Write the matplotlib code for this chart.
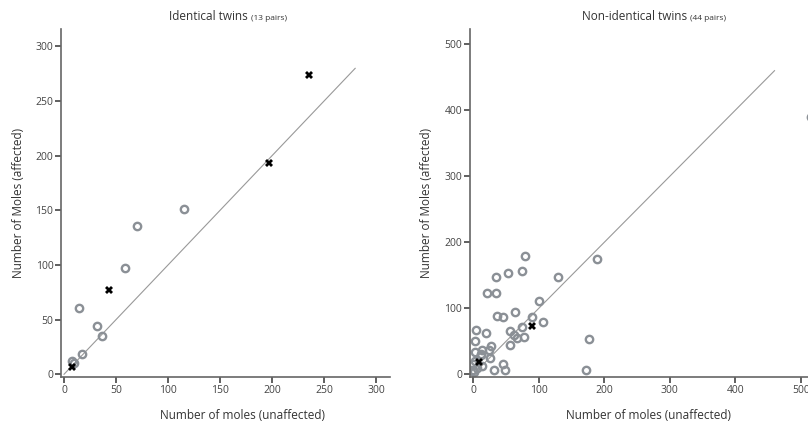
import matplotlib.pyplot as plt

plt.rcParams['font.family'] = ['Open Sans', 'DejaVu Sans']

# identical twins (13 pairs)
id_circle_x = [8, 10, 17, 14, 32, 37, 59, 70, 115]
id_circle_y = [12, 10, 19, 61, 44, 35, 97, 136, 151]
id_cross_x = [8, 43, 197, 236]
id_cross_y = [7, 77, 193, 274]

# non-identical twins (44 pairs)
nid_circle_x = [189, 130, 79, 75, 53, 34, 21, 35, 101, 64, 36, 46, 90, 107,
                74, 56, 62, 66, 78, 56, 177, 4, 20, 3, 27, 24, 14, 2, 12, 11,
                26, 3, 0, 13, 46, 32, 48, 172, -1, 1, 5, 516]
nid_circle_y = [175, 147, 180, 157, 153, 147, 123, 123, 111, 95, 89, 87, 87, 79,
                71, 66, 59, 55, 57, 44, 53, 67, 62, 51, 43, 37, 37, 34, 31, 29,
                24, 20, 15, 12, 16, 6, 6, 6, 7, 3, 9, 390]
nid_cross_x = [89, 9]
nid_cross_y = [73, 19]

W, H = 808, 426
fig = plt.figure(figsize=(W / 100, H / 100), dpi=100)

axis_col = '#666666'
circ_col = '#8b9096'


def px(x0, y0, x1, y1):
    return [x0 / W, 1 - y1 / H, (x1 - x0) / W, (y1 - y0) / H]


def style(ax):
    for s in ['top', 'right']:
        ax.spines[s].set_visible(False)
    for s in ['left', 'bottom']:
        ax.spines[s].set_color(axis_col)
        ax.spines[s].set_linewidth(1.2)
    ax.tick_params(direction='out', length=4, width=1.2, color='#444444',
                   labelsize=7.5, labelcolor='#444444', pad=1.5)


ax1 = fig.add_axes(px(61, 29, 390, 377))
ax1.plot([0, 280], [0, 280], color='#999999', lw=0.8, zorder=1)
ax1.plot(id_circle_x, id_circle_y, 'o', ms=5.3, mfc='none', mec=circ_col, mew=1.7, zorder=2)
ax1.plot(id_cross_x, id_cross_y, 'X', ms=5.8, color='black', mew=0, zorder=3)
ax1.set_xlim(-2.9, 313.5)
ax1.set_ylim(-2.5, 316)
ax1.set_xticks(range(0, 301, 50))
ax1.set_yticks(range(0, 301, 50))
style(ax1)

ax2 = fig.add_axes(px(469.7, 28.7, 840, 377.3))
ax2.plot([0, 460], [0, 460], color='#999999', lw=0.8, zorder=1)
ax2.plot(nid_circle_x, nid_circle_y, 'o', ms=5.3, mfc='none', mec=circ_col, mew=1.7, zorder=2)
ax2.plot(nid_cross_x, nid_cross_y, 'X', ms=5.8, color='black', mew=0, zorder=3)
ax2.set_xlim(-5.5, 560)
ax2.set_ylim(-4.5, 523.6)
ax2.set_xticks(range(0, 501, 100))
ax2.set_yticks(range(0, 501, 100))
style(ax2)

tcol = '#333333'
yb = 1 - 20 / H
fig.text(248 / W, yb, 'Identical twins', ha='right', va='baseline', fontsize=8.5, color=tcol)
fig.text(251 / W, yb, '(13 pairs)', ha='left', va='baseline', fontsize=6, color=tcol)
fig.text(687 / W, yb, 'Non-identical twins', ha='right', va='baseline', fontsize=8.5, color=tcol)
fig.text(690 / W, yb, '(44 pairs)', ha='left', va='baseline', fontsize=6, color=tcol)

xb = 1 - 419 / H
fig.text(242 / W, xb, 'Number of moles (unaffected)', ha='center', va='baseline', fontsize=8.5, color=tcol)
fig.text(649 / W, xb, 'Number of moles (unaffected)', ha='center', va='baseline', fontsize=8.5, color=tcol)
fig.text(19 / W, 1 - 203 / H, 'Number of Moles (affected)', rotation=90, ha='center', va='center', fontsize=8.5, color=tcol)
fig.text(426 / W, 1 - 203 / H, 'Number of Moles (affected)', rotation=90, ha='center', va='center', fontsize=8.5, color=tcol)

fig.savefig('out.png', dpi=100)
